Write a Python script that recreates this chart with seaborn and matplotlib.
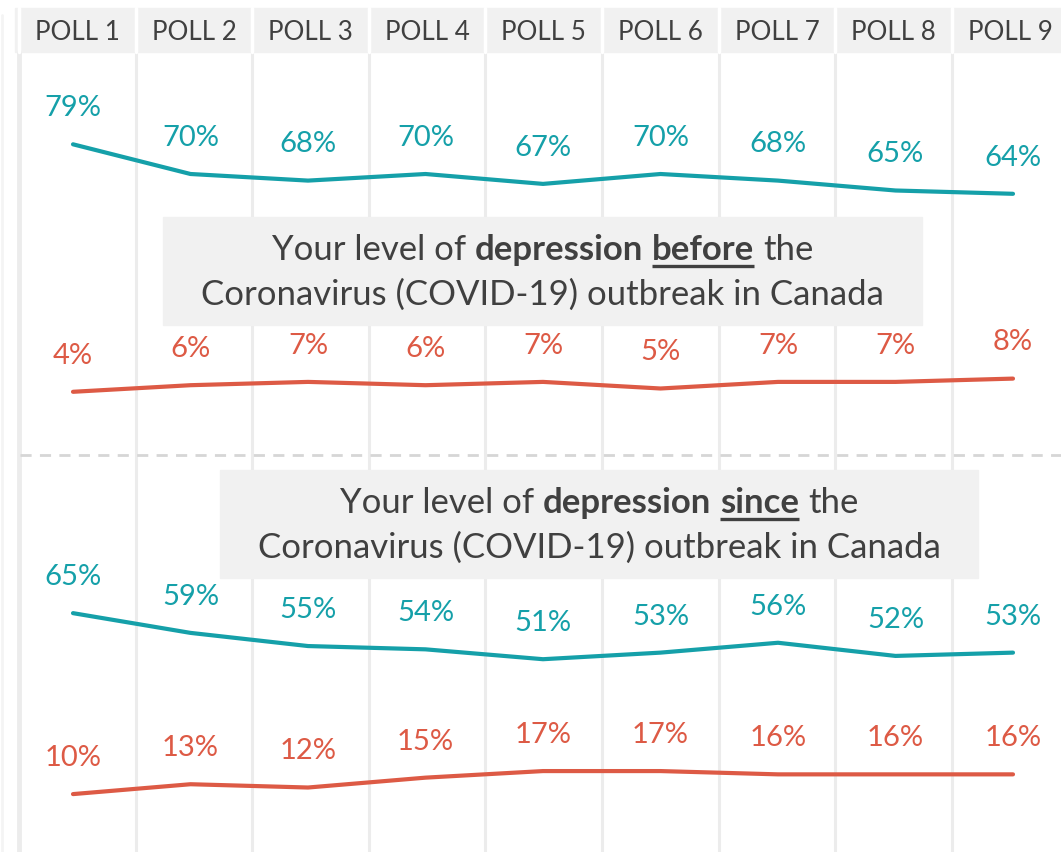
import numpy as np
import pandas as pd
import matplotlib
matplotlib.use("Agg")
import matplotlib.pyplot as plt
import seaborn as sns

sns.set_theme(style="white")
plt.rcParams['font.family'] = ['Lato', 'DejaVu Sans']

# ---------------- data ----------------
polls = ["POLL 1", "POLL 2", "POLL 3", "POLL 4", "POLL 5", "POLL 6", "POLL 7", "POLL 8", "POLL 9"]
before_high = [79, 70, 68, 70, 67, 70, 68, 65, 64]
before_low = [4, 6, 7, 6, 7, 5, 7, 7, 8]
since_high = [65, 59, 55, 54, 51, 53, 56, 52, 53]
since_low = [10, 13, 12, 15, 17, 17, 16, 16, 16]

TEAL = "#15a0a9"
RED = "#dd5a45"
DARK = "#404040"
BOXGRAY = "#f1f1f1"
SEPGRAY = "#ececec"

W, H = 1061, 852
fig = plt.figure(figsize=(W / 100, H / 100), dpi=100)

# background axes in pixel coordinates (decoration only)
bg = fig.add_axes([0, 0, 1, 1])
bg.set_xlim(0, W)
bg.set_ylim(H, 0)
bg.axis("off")

# header band
hdr_top, hdr_bot = 8, 52
bg.add_patch(plt.Rectangle((15, hdr_top), W - 15, hdr_bot - hdr_top, color=BOXGRAY, zorder=1))
col_edges = [19 + 116.6 * k for k in range(10)]
for k, xe in enumerate(col_edges[:-1]):
    bg.plot([xe, xe], [hdr_top, hdr_bot], color="white", lw=2.5, zorder=2)
    bg.plot([xe, xe], [hdr_bot, H], color=SEPGRAY, lw=3.5 if k == 0 else 2.2, zorder=1)
bg.plot([1.5, 1.5], [15, H], color="#f4f4f4", lw=2, zorder=1)
for k, p in enumerate(polls):
    cx = (col_edges[k] + col_edges[k + 1]) / 2
    bg.text(cx, (hdr_top + hdr_bot) / 2 + 2, p, ha="center", va="center",
            fontsize=18.7, color=DARK, zorder=3)

# dashed divider
bg.plot([20, W], [455, 455], color="#d6d6d6", lw=2, ls=(0, (4, 3)), zorder=1)

renderer = fig.canvas.get_renderer()
TSIZE = 25


def measure(s, weight):
    t = bg.text(0, 0, s, fontsize=TSIZE, fontweight=weight)
    w = t.get_window_extent(renderer).width
    t.remove()
    return w


def rich_line(cx, y, parts):
    sp = measure("a a", "normal") - measure("aa", "normal")
    widths = [measure(s, wgt) for s, wgt, _ in parts]
    total = sum(widths) + sp * (len(parts) - 1)
    x = cx - total / 2
    for (s, wgt, ul), w in zip(parts, widths):
        bg.text(x, y, s, fontsize=TSIZE, fontweight=wgt, color=DARK,
                ha="left", va="center", zorder=4)
        if ul:
            bg.plot([x, x + w], [y + 16, y + 16], color=DARK, lw=2.4,
                    solid_capstyle="butt", zorder=4)
        x += w + sp


def title_box(x0, x1, y0, y1, word):
    bg.add_patch(plt.Rectangle((x0, y0), x1 - x0, y1 - y0, color=BOXGRAY, zorder=3))
    cx = (x0 + x1) / 2
    rich_line(cx, y0 + 33, [("Your level of", "normal", False),
                            ("depression", "bold", False),
                            (word, "bold", True),
                            ("the", "normal", False)])
    bg.text(cx, y0 + 78, "Coronavirus (COVID-19) outbreak in Canada",
            fontsize=TSIZE, color=DARK, ha="center", va="center", zorder=4)


title_box(163, 922, 217, 325, "before")
title_box(220, 978, 470, 578, "since")

# ---------------- data panels ----------------
x0px, dxpx = 73, 117.5
xlim = ((0 - x0px) / dxpx, (W - x0px) / dxpx)


def panel(rect, ylim, hi, lo):
    ax = fig.add_axes(rect)
    ax.patch.set_alpha(0)
    df = pd.DataFrame({
        "poll": list(range(len(polls))) * 2,
        "value": hi + lo,
        "group": ["high"] * len(hi) + ["low"] * len(lo),
    })
    sns.lineplot(data=df, x="poll", y="value", hue="group",
                 palette={"high": TEAL, "low": RED}, lw=3, legend=False, ax=ax)
    for line in ax.get_lines():
        line.set_solid_capstyle("round")
    for series, col in ((hi, TEAL), (lo, RED)):
        for i, v in enumerate(series):
            ax.annotate(f"{v}%", (i, v), xytext=(0, 26), textcoords="offset points",
                        ha="center", va="center", fontsize=21, color=col)
    ax.set_xlim(*xlim)
    ax.set_ylim(*ylim)
    ax.axis("off")
    return ax


# top panel: pixel y = 404 - 3.29 v, spans px 52..455
top_ylim = ((405 - 455) / 3.3, (405 - 52) / 3.3)
panel([0, (H - 455) / H, 1, (455 - 52) / H], top_ylim, before_high, before_low)
# bottom panel: pixel y = 827 - 3.29 v, spans px 455..852
bot_ylim = ((827 - 852) / 3.29, (827 - 455) / 3.29)
panel([0, 0, 1, (852 - 455) / H], bot_ylim, since_high, since_low)

fig.savefig("out.png", dpi=100)
